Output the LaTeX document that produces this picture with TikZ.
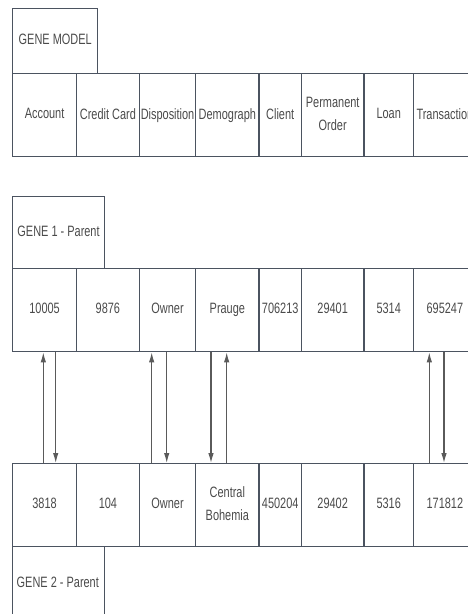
\documentclass[tikz,border=0pt]{standalone}
\usepackage{fontspec}
\setmainfont{Liberation Sans}[FakeStretch=0.73]
\usepackage{xcolor}
\usetikzlibrary{positioning, arrows.meta}

\definecolor{boxline}{HTML}{4B5360}
\definecolor{celltext}{HTML}{4A4A4A}
\definecolor{linkline}{HTML}{5A5A5A}

\begin{document}
\begin{tikzpicture}[
    x=1pt, y=-1pt,
    every node/.style={font=\fontsize{15}{23.5}\selectfont, text=celltext, align=center, inner sep=0pt,
        execute at end node=\vphantom{g}},
    head/.style={draw=boxline, line width=1.4pt, anchor=north west, minimum width=#1},
    head/.default=85pt,
    cell/.style={draw=boxline, line width=1.4pt, anchor=north west, minimum height=83pt, minimum width=#1},
    link/.style={draw=linkline, line width=1.1pt, -{Latex[length=10pt,width=5.5pt]}}
]
\clip (0,0) rectangle (468,614);

% gene model
\node[head=85pt, minimum height=65pt] (mhead) at (12,8) {GENE MODEL};
\node[cell=63.7pt] (ma) at (12,73) {Account};
\node[cell=63pt] (mb) at (75.7,73) {Credit Card};
\node[cell=56.3pt] (mc) at (138.7,73) {Disposition};
\node[cell=63.3pt] (md) at (195,73) {Demograph};
\node[cell=42.4pt] (me) at (258.3,73) {Client};
\node[cell=62.6pt] (mf) at (300.7,73) {Permanent\\Order};
\node[cell=49.4pt] (mg) at (363.3,73) {Loan};
\node[cell=63pt] (mh) at (412.7,73) {Transaction};

% gene 1
\node[head=91.7pt, minimum height=72pt] (g1head) at (12,196) {GENE 1 - Parent};
\node[cell=63.7pt] (g1a) at (12,268) {10005};
\node[cell=63pt] (g1b) at (75.7,268) {9876};
\node[cell=56.3pt] (g1c) at (138.7,268) {Owner};
\node[cell=63.3pt] (g1d) at (195,268) {Prauge};
\node[cell=42.4pt] (g1e) at (258.3,268) {706213};
\node[cell=62.6pt] (g1f) at (300.7,268) {29401};
\node[cell=49.4pt] (g1g) at (363.3,268) {5314};
\node[cell=63pt] (g1h) at (412.7,268) {695247};

% gene 2
\node[cell=63.7pt] (g2a) at (12,463) {3818};
\node[cell=63pt] (g2b) at (75.7,463) {104};
\node[cell=56.3pt] (g2c) at (138.7,463) {Owner};
\node[cell=63.3pt] (g2d) at (195,463) {Central\\Bohemia};
\node[cell=42.4pt] (g2e) at (258.3,463) {450204};
\node[cell=62.6pt] (g2f) at (300.7,463) {29402};
\node[cell=49.4pt] (g2g) at (363.3,463) {5316};
\node[cell=63pt] (g2h) at (412.7,463) {171812};
\node[head=91.7pt, minimum height=80pt] (g2head) at (12,546) {};
\node (g2label) at (57.8,584) {GENE 2 - Parent};

% links
\draw[link] ([xshift=31.3pt]g2a.north west) -- ([xshift=31.3pt]g1a.south west);
\draw[link] ([xshift=43.7pt]g1a.south west) -- ([xshift=43.7pt]g2a.north west);
\draw[link] ([xshift=13pt]g2c.north west) -- ([xshift=13pt]g1c.south west);
\draw[link] ([xshift=28pt]g1c.south west) -- ([xshift=28pt]g2c.north west);
\draw[link] ([xshift=16pt]g1d.south west) -- ([xshift=16pt]g2d.north west);
\draw[link] ([xshift=31.7pt]g2d.north west) -- ([xshift=31.7pt]g1d.south west);
\draw[link] ([xshift=16.6pt]g2h.north west) -- ([xshift=16.6pt]g1h.south west);
\draw[link] ([xshift=31.3pt]g1h.south west) -- ([xshift=31.3pt]g2h.north west);
\end{tikzpicture}
\end{document}
